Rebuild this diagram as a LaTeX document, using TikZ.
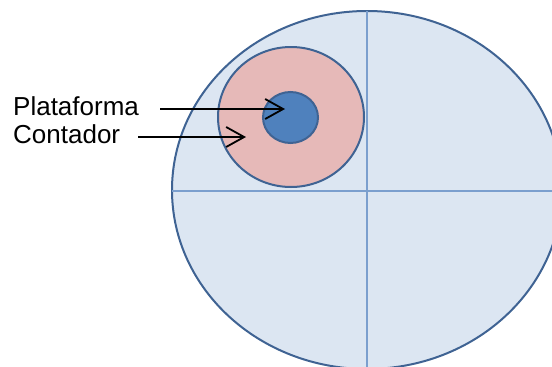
\documentclass[tikz,border=0pt]{standalone}
\usepackage{fontspec}
\setmainfont{Liberation Sans}
\usetikzlibrary{shapes.geometric,arrows.meta}
\definecolor{bigfill}{HTML}{DCE6F2}
\definecolor{outl}{HTML}{3F6393}
\definecolor{gridl}{HTML}{7B9FCE}
\definecolor{ringfill}{HTML}{E6B9B8}
\definecolor{corefill}{HTML}{4F81BD}
\tikzset{
  shapeout/.style={ellipse, draw=outl, line width=2pt, inner sep=0pt, outer sep=0pt},
  gridline/.style={draw=gridl, line width=1.6pt},
  label/.style={inner sep=0pt, anchor=base west, font=\fontsize{26}{30}\selectfont},
  pointer/.style={draw=black, line width=1.8pt, -{Straight Barb[length=18pt,width=20pt,line width=1.8pt]}}
}
\begin{document}
\begin{tikzpicture}[x=1pt,y=-1pt]
\useasboundingbox (0,0) rectangle (552,367);
\clip (0,0) rectangle (552,367);
\node[shapeout, fill=bigfill, minimum width=390pt, minimum height=358pt] (big) at (367,190) {};
\draw[gridline] (big.north) -- (big.south);
\draw[gridline] (big.west |- 0,191) -- (552,191);
\node[shapeout, fill=ringfill, minimum width=146pt, minimum height=140pt] (ring) at (291,117) {};
\node[shapeout, fill=corefill, minimum width=55pt, minimum height=51pt] (core) at (290.5,117.5) {};
\node[label] (plat) at (13,115) {Plataforma};
\node[label] (cont) at (13,143) {Contador};
\coordinate (platstart) at (160,109);
\coordinate (platend) at (285,109);
\coordinate (contstart) at (138,137);
\coordinate (contend) at (246,137);
\draw[pointer] (platstart) -- (platend);
\draw[pointer] (contstart) -- (contend);
\end{tikzpicture}
\end{document}
